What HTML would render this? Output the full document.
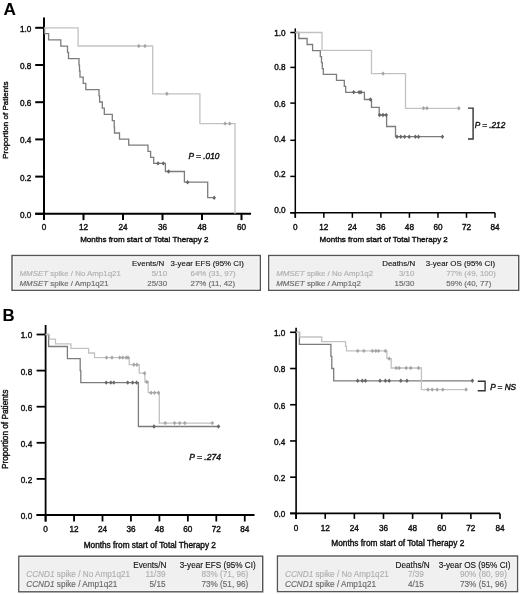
<!DOCTYPE html>
<html><head><meta charset="utf-8"><style>
html,body{margin:0;padding:0;background:#fff;}
svg{display:block;font-family:"Liberation Sans", sans-serif;will-change:transform;filter:blur(0.3px);}
</style></head><body>
<svg width="520" height="594" viewBox="0 0 520 594">
<rect width="520" height="594" fill="#fff"/>
<text x="3.5" y="15.4" font-size="17.2" text-anchor="start" font-weight="bold" font-style="normal" fill="#000" stroke="#000" stroke-width="0.05" >A</text>
<text x="2.6" y="321.2" font-size="16.8" text-anchor="start" font-weight="bold" font-style="normal" fill="#000" stroke="#000" stroke-width="0.05" >B</text>
<line x1="44" y1="17.5" x2="44" y2="220.10000000000002" stroke="#000" stroke-width="2"/>
<line x1="35.2" y1="213.8" x2="251" y2="213.8" stroke="#000" stroke-width="2"/>
<line x1="35.2" y1="213.80" x2="44" y2="213.80" stroke="#000" stroke-width="2"/>
<text x="31.3" y="217.74" font-size="8.2" text-anchor="end" font-weight="normal" font-style="normal" fill="#111" stroke="#111" stroke-width="0.4" >0.0</text>
<line x1="35.2" y1="176.60" x2="44" y2="176.60" stroke="#000" stroke-width="2"/>
<text x="31.3" y="180.54" font-size="8.2" text-anchor="end" font-weight="normal" font-style="normal" fill="#111" stroke="#111" stroke-width="0.4" >0.2</text>
<line x1="35.2" y1="139.40" x2="44" y2="139.40" stroke="#000" stroke-width="2"/>
<text x="31.3" y="143.34" font-size="8.2" text-anchor="end" font-weight="normal" font-style="normal" fill="#111" stroke="#111" stroke-width="0.4" >0.4</text>
<line x1="35.2" y1="102.20" x2="44" y2="102.20" stroke="#000" stroke-width="2"/>
<text x="31.3" y="106.14" font-size="8.2" text-anchor="end" font-weight="normal" font-style="normal" fill="#111" stroke="#111" stroke-width="0.4" >0.6</text>
<line x1="35.2" y1="65.00" x2="44" y2="65.00" stroke="#000" stroke-width="2"/>
<text x="31.3" y="68.94" font-size="8.2" text-anchor="end" font-weight="normal" font-style="normal" fill="#111" stroke="#111" stroke-width="0.4" >0.8</text>
<line x1="35.2" y1="27.80" x2="44" y2="27.80" stroke="#000" stroke-width="2"/>
<text x="31.3" y="31.74" font-size="8.2" text-anchor="end" font-weight="normal" font-style="normal" fill="#111" stroke="#111" stroke-width="0.4" >1.0</text>
<line x1="44.00" y1="213.8" x2="44.00" y2="220.10000000000002" stroke="#000" stroke-width="2"/>
<text x="44.00" y="230.4" font-size="8.2" text-anchor="middle" font-weight="normal" font-style="normal" fill="#111" stroke="#111" stroke-width="0.4" >0</text>
<line x1="83.50" y1="213.8" x2="83.50" y2="220.10000000000002" stroke="#000" stroke-width="2"/>
<text x="83.50" y="230.4" font-size="8.2" text-anchor="middle" font-weight="normal" font-style="normal" fill="#111" stroke="#111" stroke-width="0.4" >12</text>
<line x1="123.00" y1="213.8" x2="123.00" y2="220.10000000000002" stroke="#000" stroke-width="2"/>
<text x="123.00" y="230.4" font-size="8.2" text-anchor="middle" font-weight="normal" font-style="normal" fill="#111" stroke="#111" stroke-width="0.4" >24</text>
<line x1="162.50" y1="213.8" x2="162.50" y2="220.10000000000002" stroke="#000" stroke-width="2"/>
<text x="162.50" y="230.4" font-size="8.2" text-anchor="middle" font-weight="normal" font-style="normal" fill="#111" stroke="#111" stroke-width="0.4" >36</text>
<line x1="202.00" y1="213.8" x2="202.00" y2="220.10000000000002" stroke="#000" stroke-width="2"/>
<text x="202.00" y="230.4" font-size="8.2" text-anchor="middle" font-weight="normal" font-style="normal" fill="#111" stroke="#111" stroke-width="0.4" >48</text>
<line x1="241.50" y1="213.8" x2="241.50" y2="220.10000000000002" stroke="#000" stroke-width="2"/>
<text x="241.50" y="230.4" font-size="8.2" text-anchor="middle" font-weight="normal" font-style="normal" fill="#111" stroke="#111" stroke-width="0.4" >60</text>
<text x="80.2" y="242.4" font-size="8.0" text-anchor="start" font-weight="normal" font-style="normal" fill="#111" stroke="#111" stroke-width="0.4" >Months from start of Total Therapy 2</text>
<text transform="translate(8.4,120.2) rotate(-90)" font-size="8.05" text-anchor="middle" fill="#111" stroke="#111" stroke-width="0.4">Proportion of Patients</text>
<path d="M44,27.8 H44.6 V33.6 H48.6 V39.8 H60.8 V46.2 H67.5 V52.4 H68.5 V58.6 H79 V64.8 H79.5 V71 H80 V77.2 H83.2 V83.4 H85.8 V89.6 H99 V95.8 H99.6 V102 H102.3 V108.2 H104.3 V114.4 H112.3 V120.6 H114.2 V126.8 H114.5 V133 H119.5 V139.2 H128.7 V145.2 H148 V151.4 H150.6 V157.4 H153.7 V163.4 H165.4 V171.5 H184.4 V182.2 H207.7 V197.7 H215" fill="none" stroke="#7c7c7c" stroke-width="1.3"/>
<path d="M156.2,163.4 L158,161.20000000000002 L159.8,163.4 L158,165.6 Z" fill="#666"/>
<path d="M161.5,163.4 L163.3,161.20000000000002 L165.10000000000002,163.4 L163.3,165.6 Z" fill="#666"/>
<path d="M166.79999999999998,171.5 L168.6,169.3 L170.4,171.5 L168.6,173.7 Z" fill="#666"/>
<path d="M185.79999999999998,182.2 L187.6,180.0 L189.4,182.2 L187.6,184.39999999999998 Z" fill="#666"/>
<path d="M212.39999999999998,197.7 L214.2,195.5 L216.0,197.7 L214.2,199.89999999999998 Z" fill="#666"/>
<path d="M44,27.8 H78.1 V46.0 H152.7 V93.8 H199.9 V123.6 H235 V213.8" fill="none" stroke="#c2c2c2" stroke-width="1.3"/>
<path d="M137.0,46.0 L138.8,43.8 L140.60000000000002,46.0 L138.8,48.2 Z" fill="#a5a5a5"/>
<path d="M143.2,46.0 L145,43.8 L146.8,46.0 L145,48.2 Z" fill="#a5a5a5"/>
<path d="M165.1,93.8 L166.9,91.6 L168.70000000000002,93.8 L166.9,96.0 Z" fill="#a5a5a5"/>
<path d="M223.29999999999998,123.6 L225.1,121.39999999999999 L226.9,123.6 L225.1,125.8 Z" fill="#a5a5a5"/>
<path d="M227.89999999999998,123.6 L229.7,121.39999999999999 L231.5,123.6 L229.7,125.8 Z" fill="#a5a5a5"/>
<text x="188.6" y="158.8" font-size="8.3" text-anchor="start" font-weight="normal" font-style="italic" fill="#111" stroke="#111" stroke-width="0.4" >P = .010</text>
<line x1="295.3" y1="28.4" x2="295.3" y2="217.8" stroke="#000" stroke-width="1.5"/>
<line x1="290.3" y1="212.8" x2="495" y2="212.8" stroke="#000" stroke-width="1.5"/>
<line x1="290.3" y1="212.80" x2="295.3" y2="212.80" stroke="#000" stroke-width="1.5"/>
<text x="285.6" y="212.74" font-size="8.2" text-anchor="end" font-weight="normal" font-style="normal" fill="#111" stroke="#111" stroke-width="0.4" >0.0</text>
<line x1="290.3" y1="176.40" x2="295.3" y2="176.40" stroke="#000" stroke-width="1.5"/>
<text x="285.6" y="177.44" font-size="8.2" text-anchor="end" font-weight="normal" font-style="normal" fill="#111" stroke="#111" stroke-width="0.4" >0.2</text>
<line x1="290.3" y1="140.30" x2="295.3" y2="140.30" stroke="#000" stroke-width="1.5"/>
<text x="285.6" y="142.14" font-size="8.2" text-anchor="end" font-weight="normal" font-style="normal" fill="#111" stroke="#111" stroke-width="0.4" >0.4</text>
<line x1="290.3" y1="103.10" x2="295.3" y2="103.10" stroke="#000" stroke-width="1.5"/>
<text x="285.6" y="107.04" font-size="8.2" text-anchor="end" font-weight="normal" font-style="normal" fill="#111" stroke="#111" stroke-width="0.4" >0.6</text>
<line x1="290.3" y1="67.40" x2="295.3" y2="67.40" stroke="#000" stroke-width="1.5"/>
<text x="285.6" y="70.44" font-size="8.2" text-anchor="end" font-weight="normal" font-style="normal" fill="#111" stroke="#111" stroke-width="0.4" >0.8</text>
<line x1="290.3" y1="32.50" x2="295.3" y2="32.50" stroke="#000" stroke-width="1.5"/>
<text x="285.6" y="36.44" font-size="8.2" text-anchor="end" font-weight="normal" font-style="normal" fill="#111" stroke="#111" stroke-width="0.4" >1.0</text>
<line x1="295.30" y1="212.8" x2="295.30" y2="217.8" stroke="#000" stroke-width="1.5"/>
<text x="295.30" y="230.3" font-size="8.2" text-anchor="middle" font-weight="normal" font-style="normal" fill="#111" stroke="#111" stroke-width="0.4" >0</text>
<line x1="323.83" y1="212.8" x2="323.83" y2="217.8" stroke="#000" stroke-width="1.5"/>
<text x="323.83" y="230.3" font-size="8.2" text-anchor="middle" font-weight="normal" font-style="normal" fill="#111" stroke="#111" stroke-width="0.4" >12</text>
<line x1="352.36" y1="212.8" x2="352.36" y2="217.8" stroke="#000" stroke-width="1.5"/>
<text x="352.36" y="230.3" font-size="8.2" text-anchor="middle" font-weight="normal" font-style="normal" fill="#111" stroke="#111" stroke-width="0.4" >24</text>
<line x1="380.89" y1="212.8" x2="380.89" y2="217.8" stroke="#000" stroke-width="1.5"/>
<text x="380.89" y="230.3" font-size="8.2" text-anchor="middle" font-weight="normal" font-style="normal" fill="#111" stroke="#111" stroke-width="0.4" >36</text>
<line x1="409.42" y1="212.8" x2="409.42" y2="217.8" stroke="#000" stroke-width="1.5"/>
<text x="409.42" y="230.3" font-size="8.2" text-anchor="middle" font-weight="normal" font-style="normal" fill="#111" stroke="#111" stroke-width="0.4" >48</text>
<line x1="437.95" y1="212.8" x2="437.95" y2="217.8" stroke="#000" stroke-width="1.5"/>
<text x="437.95" y="230.3" font-size="8.2" text-anchor="middle" font-weight="normal" font-style="normal" fill="#111" stroke="#111" stroke-width="0.4" >60</text>
<line x1="466.48" y1="212.8" x2="466.48" y2="217.8" stroke="#000" stroke-width="1.5"/>
<text x="466.48" y="230.3" font-size="8.2" text-anchor="middle" font-weight="normal" font-style="normal" fill="#111" stroke="#111" stroke-width="0.4" >72</text>
<line x1="495.01" y1="212.8" x2="495.01" y2="217.8" stroke="#000" stroke-width="1.5"/>
<text x="495.01" y="230.3" font-size="8.2" text-anchor="middle" font-weight="normal" font-style="normal" fill="#111" stroke="#111" stroke-width="0.4" >84</text>
<text x="319.6" y="242.2" font-size="8.0" text-anchor="start" font-weight="normal" font-style="normal" fill="#111" stroke="#111" stroke-width="0.4" >Months from start of Total Therapy 2</text>
<path d="M295.3,32.5 H298.8 V38.5 H307.1 V44.5 H312.6 V50.6 H320.3 V56.6 H321.5 V62.6 H322.3 V68.6 H323.3 V74.4 H336.5 V80.3 H344.3 V86.3 H345.7 V92.3 H364.4 V99.5 H371.5 V107.3 H379.2 V115 H386.6 V126.5 H395.5 V136.7 H442.6" fill="none" stroke="#7c7c7c" stroke-width="1.3"/>
<path d="M351.9,92.3 L353.7,90.1 L355.5,92.3 L353.7,94.5 Z" fill="#666"/>
<path d="M357.3,92.3 L359.1,90.1 L360.90000000000003,92.3 L359.1,94.5 Z" fill="#666"/>
<path d="M359.2,92.3 L361,90.1 L362.8,92.3 L361,94.5 Z" fill="#666"/>
<path d="M368.59999999999997,99.5 L370.4,97.3 L372.2,99.5 L370.4,101.7 Z" fill="#666"/>
<path d="M377.8,115 L379.6,112.8 L381.40000000000003,115 L379.6,117.2 Z" fill="#666"/>
<path d="M381.2,115 L383,112.8 L384.8,115 L383,117.2 Z" fill="#666"/>
<path d="M384.4,115 L386.2,112.8 L388.0,115 L386.2,117.2 Z" fill="#666"/>
<path d="M395.2,136.7 L397,134.5 L398.8,136.7 L397,138.89999999999998 Z" fill="#666"/>
<path d="M399.0,136.7 L400.8,134.5 L402.6,136.7 L400.8,138.89999999999998 Z" fill="#666"/>
<path d="M402.8,136.7 L404.6,134.5 L406.40000000000003,136.7 L404.6,138.89999999999998 Z" fill="#666"/>
<path d="M407.4,136.7 L409.2,134.5 L411.0,136.7 L409.2,138.89999999999998 Z" fill="#666"/>
<path d="M413.59999999999997,136.7 L415.4,134.5 L417.2,136.7 L415.4,138.89999999999998 Z" fill="#666"/>
<path d="M416.7,136.7 L418.5,134.5 L420.3,136.7 L418.5,138.89999999999998 Z" fill="#666"/>
<path d="M440.59999999999997,136.7 L442.4,134.5 L444.2,136.7 L442.4,138.89999999999998 Z" fill="#666"/>
<path d="M295.3,32.5 H322 V50.4 H371.5 V73.6 H405.5 V108.3 H458.8" fill="none" stroke="#c2c2c2" stroke-width="1.3"/>
<path d="M381.3,73.6 L383.1,71.39999999999999 L384.90000000000003,73.6 L383.1,75.8 Z" fill="#a5a5a5"/>
<path d="M421.7,108.3 L423.5,106.1 L425.3,108.3 L423.5,110.5 Z" fill="#a5a5a5"/>
<path d="M425.2,108.3 L427,106.1 L428.8,108.3 L427,110.5 Z" fill="#a5a5a5"/>
<path d="M457.0,108.3 L458.8,106.1 L460.6,108.3 L458.8,110.5 Z" fill="#a5a5a5"/>
<path d="M468,108.1 H473.1 V139 H468" fill="none" stroke="#333" stroke-width="1.4"/>
<text x="474.8" y="127.8" font-size="8.2" text-anchor="start" font-weight="normal" font-style="italic" fill="#111" stroke="#111" stroke-width="0.4" >P = .212</text>
<rect x="12" y="255.5" width="248.3" height="34.8" fill="#f0f0f0" stroke="#555" stroke-width="1.4"/>
<rect x="13.4" y="256.9" width="245.5" height="31.999999999999996" fill="none" stroke="#fafafa" stroke-width="0.8"/>
<text x="132.1" y="266.4" font-size="7.9" text-anchor="start" font-weight="normal" font-style="normal" fill="#111" stroke="#111" stroke-width="0.12" >Events/N</text>
<text x="170.6" y="266.4" font-size="7.9" text-anchor="start" font-weight="normal" font-style="normal" fill="#111" stroke="#111" stroke-width="0.12" >3-year EFS (95% CI)</text>
<text x="19.5" y="275.8" font-size="7.9" fill="#b0b0b0" stroke="#b0b0b0" stroke-width="0.15"><tspan font-style="italic">MMSET</tspan> spike / No Amp1q21</text>
<text x="167.1" y="275.8" font-size="7.9" text-anchor="end" font-weight="normal" font-style="normal" fill="#b0b0b0" stroke="#b0b0b0" stroke-width="0.15" >5/10</text>
<text x="190.5" y="275.8" font-size="7.9" text-anchor="start" font-weight="normal" font-style="normal" fill="#b0b0b0" stroke="#b0b0b0" stroke-width="0.15" >64% (31, 97)</text>
<text x="19.5" y="286.2" font-size="7.9" fill="#6a6a6a" stroke="#6a6a6a" stroke-width="0.15"><tspan font-style="italic">MMSET</tspan> spike / Amp1q21</text>
<text x="167.1" y="286.2" font-size="7.9" text-anchor="end" font-weight="normal" font-style="normal" fill="#6a6a6a" stroke="#6a6a6a" stroke-width="0.15" >25/30</text>
<text x="190.5" y="286.2" font-size="7.9" text-anchor="start" font-weight="normal" font-style="normal" fill="#6a6a6a" stroke="#6a6a6a" stroke-width="0.15" >27% (11, 42)</text>
<rect x="268.7" y="255.5" width="250" height="34.8" fill="#f0f0f0" stroke="#555" stroke-width="1.4"/>
<rect x="270.09999999999997" y="256.9" width="247.2" height="31.999999999999996" fill="none" stroke="#fafafa" stroke-width="0.8"/>
<text x="382.2" y="266.4" font-size="7.9" text-anchor="start" font-weight="normal" font-style="normal" fill="#111" stroke="#111" stroke-width="0.12" >Deaths/N</text>
<text x="425.8" y="266.4" font-size="7.9" text-anchor="start" font-weight="normal" font-style="normal" fill="#111" stroke="#111" stroke-width="0.12" >3-year OS (95% CI)</text>
<text x="276.2" y="275.8" font-size="7.9" fill="#b0b0b0" stroke="#b0b0b0" stroke-width="0.15"><tspan font-style="italic">MMSET</tspan> spike / No Amp1q2</text>
<text x="414.3" y="275.8" font-size="7.9" text-anchor="end" font-weight="normal" font-style="normal" fill="#b0b0b0" stroke="#b0b0b0" stroke-width="0.15" >3/10</text>
<text x="446.2" y="275.8" font-size="7.9" text-anchor="start" font-weight="normal" font-style="normal" fill="#b0b0b0" stroke="#b0b0b0" stroke-width="0.15" >77% (49, 100)</text>
<text x="276.2" y="286.2" font-size="7.9" fill="#6a6a6a" stroke="#6a6a6a" stroke-width="0.15"><tspan font-style="italic">MMSET</tspan> spike / Amp1q2</text>
<text x="414.3" y="286.2" font-size="7.9" text-anchor="end" font-weight="normal" font-style="normal" fill="#6a6a6a" stroke="#6a6a6a" stroke-width="0.15" >15/30</text>
<text x="446.2" y="286.2" font-size="7.9" text-anchor="start" font-weight="normal" font-style="normal" fill="#6a6a6a" stroke="#6a6a6a" stroke-width="0.15" >59% (40, 77)</text>
<line x1="45.6" y1="325" x2="45.6" y2="521.5" stroke="#000" stroke-width="1.8"/>
<line x1="36.6" y1="515" x2="254.5" y2="515" stroke="#000" stroke-width="1.8"/>
<line x1="36.6" y1="515.00" x2="45.6" y2="515.00" stroke="#000" stroke-width="1.8"/>
<text x="32.2" y="518.94" font-size="8.2" text-anchor="end" font-weight="normal" font-style="normal" fill="#111" stroke="#111" stroke-width="0.4" >0.0</text>
<line x1="36.6" y1="478.90" x2="45.6" y2="478.90" stroke="#000" stroke-width="1.8"/>
<text x="32.2" y="482.84" font-size="8.2" text-anchor="end" font-weight="normal" font-style="normal" fill="#111" stroke="#111" stroke-width="0.4" >0.2</text>
<line x1="36.6" y1="442.80" x2="45.6" y2="442.80" stroke="#000" stroke-width="1.8"/>
<text x="32.2" y="446.74" font-size="8.2" text-anchor="end" font-weight="normal" font-style="normal" fill="#111" stroke="#111" stroke-width="0.4" >0.4</text>
<line x1="36.6" y1="406.70" x2="45.6" y2="406.70" stroke="#000" stroke-width="1.8"/>
<text x="32.2" y="410.64" font-size="8.2" text-anchor="end" font-weight="normal" font-style="normal" fill="#111" stroke="#111" stroke-width="0.4" >0.6</text>
<line x1="36.6" y1="370.60" x2="45.6" y2="370.60" stroke="#000" stroke-width="1.8"/>
<text x="32.2" y="374.54" font-size="8.2" text-anchor="end" font-weight="normal" font-style="normal" fill="#111" stroke="#111" stroke-width="0.4" >0.8</text>
<line x1="36.6" y1="334.50" x2="45.6" y2="334.50" stroke="#000" stroke-width="1.8"/>
<text x="32.2" y="338.44" font-size="8.2" text-anchor="end" font-weight="normal" font-style="normal" fill="#111" stroke="#111" stroke-width="0.4" >1.0</text>
<line x1="45.60" y1="515" x2="45.60" y2="521.5" stroke="#000" stroke-width="1.8"/>
<text x="45.60" y="532.2" font-size="8.2" text-anchor="middle" font-weight="normal" font-style="normal" fill="#111" stroke="#111" stroke-width="0.4" >0</text>
<line x1="74.05" y1="515" x2="74.05" y2="521.5" stroke="#000" stroke-width="1.8"/>
<text x="74.05" y="532.2" font-size="8.2" text-anchor="middle" font-weight="normal" font-style="normal" fill="#111" stroke="#111" stroke-width="0.4" >12</text>
<line x1="102.50" y1="515" x2="102.50" y2="521.5" stroke="#000" stroke-width="1.8"/>
<text x="102.50" y="532.2" font-size="8.2" text-anchor="middle" font-weight="normal" font-style="normal" fill="#111" stroke="#111" stroke-width="0.4" >24</text>
<line x1="130.95" y1="515" x2="130.95" y2="521.5" stroke="#000" stroke-width="1.8"/>
<text x="130.95" y="532.2" font-size="8.2" text-anchor="middle" font-weight="normal" font-style="normal" fill="#111" stroke="#111" stroke-width="0.4" >36</text>
<line x1="159.40" y1="515" x2="159.40" y2="521.5" stroke="#000" stroke-width="1.8"/>
<text x="159.40" y="532.2" font-size="8.2" text-anchor="middle" font-weight="normal" font-style="normal" fill="#111" stroke="#111" stroke-width="0.4" >48</text>
<line x1="187.85" y1="515" x2="187.85" y2="521.5" stroke="#000" stroke-width="1.8"/>
<text x="187.85" y="532.2" font-size="8.2" text-anchor="middle" font-weight="normal" font-style="normal" fill="#111" stroke="#111" stroke-width="0.4" >60</text>
<line x1="216.30" y1="515" x2="216.30" y2="521.5" stroke="#000" stroke-width="1.8"/>
<text x="216.30" y="532.2" font-size="8.2" text-anchor="middle" font-weight="normal" font-style="normal" fill="#111" stroke="#111" stroke-width="0.4" >72</text>
<line x1="244.75" y1="515" x2="244.75" y2="521.5" stroke="#000" stroke-width="1.8"/>
<text x="244.75" y="532.2" font-size="8.2" text-anchor="middle" font-weight="normal" font-style="normal" fill="#111" stroke="#111" stroke-width="0.4" >84</text>
<text x="83.7" y="547.5" font-size="8.25" text-anchor="start" font-weight="normal" font-style="normal" fill="#111" stroke="#111" stroke-width="0.4" >Months from start of Total Therapy 2</text>
<text transform="translate(8.4,429.4) rotate(-90)" font-size="8.25" text-anchor="middle" fill="#111" stroke="#111" stroke-width="0.4">Proportion of Patients</text>
<path d="M45.5,334.5 H48.6 V346.5 H67.4 V358.6 H80.2 V370.6 H80.8 V382.6 H138.4 V426.5 H218.5" fill="none" stroke="#7c7c7c" stroke-width="1.3"/>
<path d="M104.4,382.6 L106.2,380.40000000000003 L108.0,382.6 L106.2,384.8 Z" fill="#666"/>
<path d="M109.0,382.6 L110.8,380.40000000000003 L112.6,382.6 L110.8,384.8 Z" fill="#666"/>
<path d="M112.0,382.6 L113.8,380.40000000000003 L115.6,382.6 L113.8,384.8 Z" fill="#666"/>
<path d="M125.9,382.6 L127.7,380.40000000000003 L129.5,382.6 L127.7,384.8 Z" fill="#666"/>
<path d="M130.79999999999998,382.6 L132.6,380.40000000000003 L134.4,382.6 L132.6,384.8 Z" fill="#666"/>
<path d="M134.79999999999998,382.6 L136.6,380.40000000000003 L138.4,382.6 L136.6,384.8 Z" fill="#666"/>
<path d="M152.2,426.5 L154,424.3 L155.8,426.5 L154,428.7 Z" fill="#666"/>
<path d="M216.7,426.5 L218.5,424.3 L220.3,426.5 L218.5,428.7 Z" fill="#666"/>
<path d="M45.5,334.5 H49.4 V339.1 H55.5 V343.8 H70.9 V348.4 H88.6 V353 H94.5 V357.6 H129.2 V364.7 H139.2 V373.2 H144.9 V382 H148.2 V392.7 H159.3 V423.1 H212.3" fill="none" stroke="#c2c2c2" stroke-width="1.3"/>
<path d="M104.7,357.6 L106.5,355.40000000000003 L108.3,357.6 L106.5,359.8 Z" fill="#a5a5a5"/>
<path d="M110.2,357.6 L112,355.40000000000003 L113.8,357.6 L112,359.8 Z" fill="#a5a5a5"/>
<path d="M117.9,357.6 L119.7,355.40000000000003 L121.5,357.6 L119.7,359.8 Z" fill="#a5a5a5"/>
<path d="M121.0,357.6 L122.8,355.40000000000003 L124.6,357.6 L122.8,359.8 Z" fill="#a5a5a5"/>
<path d="M124.4,357.6 L126.2,355.40000000000003 L128.0,357.6 L126.2,359.8 Z" fill="#a5a5a5"/>
<path d="M126.2,357.6 L128,355.40000000000003 L129.8,357.6 L128,359.8 Z" fill="#a5a5a5"/>
<path d="M132.0,364.7 L133.8,362.5 L135.60000000000002,364.7 L133.8,366.9 Z" fill="#a5a5a5"/>
<path d="M135.1,364.7 L136.9,362.5 L138.70000000000002,364.7 L136.9,366.9 Z" fill="#a5a5a5"/>
<path d="M142.79999999999998,373.2 L144.6,371.0 L146.4,373.2 L144.6,375.4 Z" fill="#a5a5a5"/>
<path d="M145.1,382 L146.9,379.8 L148.70000000000002,382 L146.9,384.2 Z" fill="#a5a5a5"/>
<path d="M149.2,392.7 L151,390.5 L152.8,392.7 L151,394.9 Z" fill="#a5a5a5"/>
<path d="M152.79999999999998,392.7 L154.6,390.5 L156.4,392.7 L154.6,394.9 Z" fill="#a5a5a5"/>
<path d="M156.7,392.7 L158.5,390.5 L160.3,392.7 L158.5,394.9 Z" fill="#a5a5a5"/>
<path d="M163.39999999999998,423.1 L165.2,420.90000000000003 L167.0,423.1 L165.2,425.3 Z" fill="#a5a5a5"/>
<path d="M172.79999999999998,423.1 L174.6,420.90000000000003 L176.4,423.1 L174.6,425.3 Z" fill="#a5a5a5"/>
<path d="M177.79999999999998,423.1 L179.6,420.90000000000003 L181.4,423.1 L179.6,425.3 Z" fill="#a5a5a5"/>
<path d="M183.0,423.1 L184.8,420.90000000000003 L186.60000000000002,423.1 L184.8,425.3 Z" fill="#a5a5a5"/>
<path d="M210.5,423.1 L212.3,420.90000000000003 L214.10000000000002,423.1 L212.3,425.3 Z" fill="#a5a5a5"/>
<text x="189.3" y="459.6" font-size="8.5" text-anchor="start" font-weight="normal" font-style="italic" fill="#111" stroke="#111" stroke-width="0.4" >P = .274</text>
<line x1="296.1" y1="327.8" x2="296.1" y2="518.9" stroke="#000" stroke-width="1.6"/>
<line x1="290.1" y1="513.4" x2="500" y2="513.4" stroke="#000" stroke-width="1.6"/>
<line x1="290.1" y1="513.40" x2="296.1" y2="513.40" stroke="#000" stroke-width="1.6"/>
<text x="285.4" y="517.34" font-size="8.2" text-anchor="end" font-weight="normal" font-style="normal" fill="#111" stroke="#111" stroke-width="0.4" >0.0</text>
<line x1="290.1" y1="477.18" x2="296.1" y2="477.18" stroke="#000" stroke-width="1.6"/>
<text x="285.4" y="481.12" font-size="8.2" text-anchor="end" font-weight="normal" font-style="normal" fill="#111" stroke="#111" stroke-width="0.4" >0.2</text>
<line x1="290.1" y1="440.96" x2="296.1" y2="440.96" stroke="#000" stroke-width="1.6"/>
<text x="285.4" y="444.9" font-size="8.2" text-anchor="end" font-weight="normal" font-style="normal" fill="#111" stroke="#111" stroke-width="0.4" >0.4</text>
<line x1="290.1" y1="404.74" x2="296.1" y2="404.74" stroke="#000" stroke-width="1.6"/>
<text x="285.4" y="408.68" font-size="8.2" text-anchor="end" font-weight="normal" font-style="normal" fill="#111" stroke="#111" stroke-width="0.4" >0.6</text>
<line x1="290.1" y1="368.52" x2="296.1" y2="368.52" stroke="#000" stroke-width="1.6"/>
<text x="285.4" y="372.46" font-size="8.2" text-anchor="end" font-weight="normal" font-style="normal" fill="#111" stroke="#111" stroke-width="0.4" >0.8</text>
<line x1="290.1" y1="332.30" x2="296.1" y2="332.30" stroke="#000" stroke-width="1.6"/>
<text x="285.4" y="336.24" font-size="8.2" text-anchor="end" font-weight="normal" font-style="normal" fill="#111" stroke="#111" stroke-width="0.4" >1.0</text>
<line x1="296.10" y1="513.4" x2="296.10" y2="518.9" stroke="#000" stroke-width="1.6"/>
<text x="296.10" y="530.5" font-size="8.2" text-anchor="middle" font-weight="normal" font-style="normal" fill="#111" stroke="#111" stroke-width="0.4" >0</text>
<line x1="325.23" y1="513.4" x2="325.23" y2="518.9" stroke="#000" stroke-width="1.6"/>
<text x="325.23" y="530.5" font-size="8.2" text-anchor="middle" font-weight="normal" font-style="normal" fill="#111" stroke="#111" stroke-width="0.4" >12</text>
<line x1="354.36" y1="513.4" x2="354.36" y2="518.9" stroke="#000" stroke-width="1.6"/>
<text x="354.36" y="530.5" font-size="8.2" text-anchor="middle" font-weight="normal" font-style="normal" fill="#111" stroke="#111" stroke-width="0.4" >24</text>
<line x1="383.49" y1="513.4" x2="383.49" y2="518.9" stroke="#000" stroke-width="1.6"/>
<text x="383.49" y="530.5" font-size="8.2" text-anchor="middle" font-weight="normal" font-style="normal" fill="#111" stroke="#111" stroke-width="0.4" >36</text>
<line x1="412.62" y1="513.4" x2="412.62" y2="518.9" stroke="#000" stroke-width="1.6"/>
<text x="412.62" y="530.5" font-size="8.2" text-anchor="middle" font-weight="normal" font-style="normal" fill="#111" stroke="#111" stroke-width="0.4" >48</text>
<line x1="441.75" y1="513.4" x2="441.75" y2="518.9" stroke="#000" stroke-width="1.6"/>
<text x="441.75" y="530.5" font-size="8.2" text-anchor="middle" font-weight="normal" font-style="normal" fill="#111" stroke="#111" stroke-width="0.4" >60</text>
<line x1="470.88" y1="513.4" x2="470.88" y2="518.9" stroke="#000" stroke-width="1.6"/>
<text x="470.88" y="530.5" font-size="8.2" text-anchor="middle" font-weight="normal" font-style="normal" fill="#111" stroke="#111" stroke-width="0.4" >72</text>
<line x1="500.01" y1="513.4" x2="500.01" y2="518.9" stroke="#000" stroke-width="1.6"/>
<text x="500.01" y="530.5" font-size="8.2" text-anchor="middle" font-weight="normal" font-style="normal" fill="#111" stroke="#111" stroke-width="0.4" >84</text>
<text x="331.3" y="546.4" font-size="8.3" text-anchor="start" font-weight="normal" font-style="normal" fill="#111" stroke="#111" stroke-width="0.4" >Months from start of Total Therapy 2</text>
<path d="M296.1,332.3 H299.4 V344.3 H330.9 V356.4 H331.8 V368.5 H333.7 V380.8 H472.4" fill="none" stroke="#7c7c7c" stroke-width="1.3"/>
<path d="M355.9,380.8 L357.7,378.6 L359.5,380.8 L357.7,383.0 Z" fill="#666"/>
<path d="M360.5,380.8 L362.3,378.6 L364.1,380.8 L362.3,383.0 Z" fill="#666"/>
<path d="M363.59999999999997,380.8 L365.4,378.6 L367.2,380.8 L365.4,383.0 Z" fill="#666"/>
<path d="M378.2,380.8 L380,378.6 L381.8,380.8 L380,383.0 Z" fill="#666"/>
<path d="M383.59999999999997,380.8 L385.4,378.6 L387.2,380.8 L385.4,383.0 Z" fill="#666"/>
<path d="M387.4,380.8 L389.2,378.6 L391.0,380.8 L389.2,383.0 Z" fill="#666"/>
<path d="M399.0,380.8 L400.8,378.6 L402.6,380.8 L400.8,383.0 Z" fill="#666"/>
<path d="M405.09999999999997,380.8 L406.9,378.6 L408.7,380.8 L406.9,383.0 Z" fill="#666"/>
<path d="M470.59999999999997,380.8 L472.4,378.6 L474.2,380.8 L472.4,383.0 Z" fill="#666"/>
<path d="M296.1,332.3 H299.8 V337.0 H321.7 V341.6 H345.5 V346.2 H346.5 V350.9 H386.9 V358.6 H391.2 V368.0 H421.4 V389.6 H466.1" fill="none" stroke="#c2c2c2" stroke-width="1.3"/>
<path d="M355.9,350.9 L357.7,348.7 L359.5,350.9 L357.7,353.09999999999997 Z" fill="#a5a5a5"/>
<path d="M362.0,350.9 L363.8,348.7 L365.6,350.9 L363.8,353.09999999999997 Z" fill="#a5a5a5"/>
<path d="M370.5,350.9 L372.3,348.7 L374.1,350.9 L372.3,353.09999999999997 Z" fill="#a5a5a5"/>
<path d="M374.0,350.9 L375.8,348.7 L377.6,350.9 L375.8,353.09999999999997 Z" fill="#a5a5a5"/>
<path d="M376.7,350.9 L378.5,348.7 L380.3,350.9 L378.5,353.09999999999997 Z" fill="#a5a5a5"/>
<path d="M383.59999999999997,350.9 L385.4,348.7 L387.2,350.9 L385.4,353.09999999999997 Z" fill="#a5a5a5"/>
<path d="M387.4,358.6 L389.2,356.40000000000003 L391.0,358.6 L389.2,360.8 Z" fill="#a5a5a5"/>
<path d="M394.4,368.0 L396.2,365.8 L398.0,368.0 L396.2,370.2 Z" fill="#a5a5a5"/>
<path d="M397.4,368.0 L399.2,365.8 L401.0,368.0 L399.2,370.2 Z" fill="#a5a5a5"/>
<path d="M404.4,368.0 L406.2,365.8 L408.0,368.0 L406.2,370.2 Z" fill="#a5a5a5"/>
<path d="M409.0,368.0 L410.8,365.8 L412.6,368.0 L410.8,370.2 Z" fill="#a5a5a5"/>
<path d="M416.7,368.0 L418.5,365.8 L420.3,368.0 L418.5,370.2 Z" fill="#a5a5a5"/>
<path d="M426.2,389.6 L428,387.40000000000003 L429.8,389.6 L428,391.8 Z" fill="#a5a5a5"/>
<path d="M430.4,389.6 L432.2,387.40000000000003 L434.0,389.6 L432.2,391.8 Z" fill="#a5a5a5"/>
<path d="M435.3,389.6 L437.1,387.40000000000003 L438.90000000000003,389.6 L437.1,391.8 Z" fill="#a5a5a5"/>
<path d="M441.0,389.6 L442.8,387.40000000000003 L444.6,389.6 L442.8,391.8 Z" fill="#a5a5a5"/>
<path d="M464.3,389.6 L466.1,387.40000000000003 L467.90000000000003,389.6 L466.1,391.8 Z" fill="#a5a5a5"/>
<path d="M477.7,381.2 H485.1 V390.7 H477.7" fill="none" stroke="#333" stroke-width="1.4"/>
<text x="490.2" y="389.7" font-size="8.2" text-anchor="start" font-weight="normal" font-style="italic" fill="#111" stroke="#111" stroke-width="0.4" >P = NS</text>
<rect x="18.8" y="556.2" width="243.9" height="35.6" fill="#f0f0f0" stroke="#555" stroke-width="1.4"/>
<rect x="20.2" y="557.6" width="241.1" height="32.800000000000004" fill="none" stroke="#fafafa" stroke-width="0.8"/>
<text x="133.2" y="567.5" font-size="8.2" text-anchor="start" font-weight="normal" font-style="normal" fill="#111" stroke="#111" stroke-width="0.12" >Events/N</text>
<text x="179.8" y="567.5" font-size="8.2" text-anchor="start" font-weight="normal" font-style="normal" fill="#111" stroke="#111" stroke-width="0.12" >3-year EFS (95% CI)</text>
<text x="26.3" y="577.2" font-size="8.2" fill="#b0b0b0" stroke="#b0b0b0" stroke-width="0.15"><tspan font-style="italic">CCND1</tspan> spike / No Amp1q21</text>
<text x="165.5" y="577.2" font-size="8.2" text-anchor="end" font-weight="normal" font-style="normal" fill="#b0b0b0" stroke="#b0b0b0" stroke-width="0.15" >11/39</text>
<text x="201.4" y="577.2" font-size="8.2" text-anchor="start" font-weight="normal" font-style="normal" fill="#b0b0b0" stroke="#b0b0b0" stroke-width="0.15" >83% (71, 96)</text>
<text x="26.3" y="586.8" font-size="8.2" fill="#6a6a6a" stroke="#6a6a6a" stroke-width="0.15"><tspan font-style="italic">CCND1</tspan> spike / Amp1q21</text>
<text x="165.5" y="586.8" font-size="8.2" text-anchor="end" font-weight="normal" font-style="normal" fill="#6a6a6a" stroke="#6a6a6a" stroke-width="0.15" >5/15</text>
<text x="201.4" y="586.8" font-size="8.2" text-anchor="start" font-weight="normal" font-style="normal" fill="#6a6a6a" stroke="#6a6a6a" stroke-width="0.15" >73% (51, 96)</text>
<rect x="277.5" y="556" width="240" height="35.6" fill="#f0f0f0" stroke="#555" stroke-width="1.4"/>
<rect x="278.9" y="557.4" width="237.2" height="32.800000000000004" fill="none" stroke="#fafafa" stroke-width="0.8"/>
<text x="395.6" y="567.5" font-size="8.2" text-anchor="start" font-weight="normal" font-style="normal" fill="#111" stroke="#111" stroke-width="0.12" >Deaths/N</text>
<text x="438.7" y="567.5" font-size="8.2" text-anchor="start" font-weight="normal" font-style="normal" fill="#111" stroke="#111" stroke-width="0.12" >3-year OS (95% CI)</text>
<text x="285.0" y="577.2" font-size="8.2" fill="#b0b0b0" stroke="#b0b0b0" stroke-width="0.15"><tspan font-style="italic">CCND1</tspan> spike / No Amp1q21</text>
<text x="423.9" y="577.2" font-size="8.2" text-anchor="end" font-weight="normal" font-style="normal" fill="#b0b0b0" stroke="#b0b0b0" stroke-width="0.15" >7/39</text>
<text x="460" y="577.2" font-size="8.2" text-anchor="start" font-weight="normal" font-style="normal" fill="#b0b0b0" stroke="#b0b0b0" stroke-width="0.15" >90% (80, 99)</text>
<text x="285.0" y="586.8" font-size="8.2" fill="#6a6a6a" stroke="#6a6a6a" stroke-width="0.15"><tspan font-style="italic">CCND1</tspan> spike / Amp1q21</text>
<text x="423.9" y="586.8" font-size="8.2" text-anchor="end" font-weight="normal" font-style="normal" fill="#6a6a6a" stroke="#6a6a6a" stroke-width="0.15" >4/15</text>
<text x="460" y="586.8" font-size="8.2" text-anchor="start" font-weight="normal" font-style="normal" fill="#6a6a6a" stroke="#6a6a6a" stroke-width="0.15" >73% (51, 96)</text>
</svg>
</body></html>
